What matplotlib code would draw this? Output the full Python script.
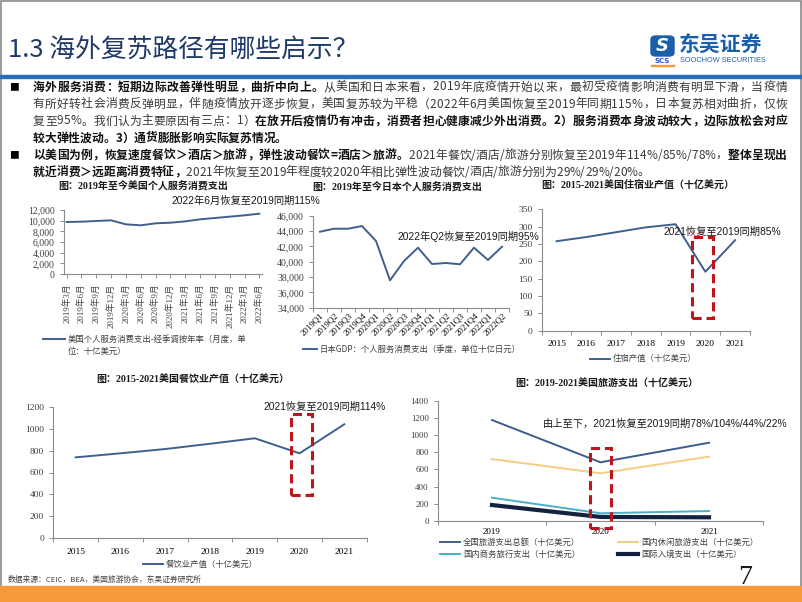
import matplotlib
matplotlib.use('Agg')
import matplotlib.pyplot as plt
from matplotlib.patches import Rectangle, FancyBboxPatch
from matplotlib.lines import Line2D
import numpy as np

W, H = 802, 602
CJK = ['Noto Sans CJK SC', 'DejaVu Sans']
SERIF = ['Liberation Serif', 'Noto Sans CJK SC']
SANS = ['Liberation Sans', 'Noto Sans CJK SC']
LINE = '#3F5F8F'
RED = '#C0141B'
GRAY = '#404040'

# ---- data ----
us_months = ['2019年3月', '2019年6月', '2019年9月', '2019年12月', '2020年3月', '2020年6月',
             '2020年9月', '2020年12月', '2021年3月', '2021年6月', '2021年9月', '2021年12月',
             '2022年3月', '2022年6月']
us_services = [9750, 9810, 9940, 10060, 9310, 9130, 9500, 9620, 9870, 10250, 10500, 10750,
               11000, 11310]

jp_quarters = ['2019Q1', '2019Q2', '2019Q3', '2019Q4', '2020Q1', '2020Q2', '2020Q3', '2020Q4',
               '2021Q1', '2021Q2', '2021Q3', '2021Q4', '2022Q1', '2022Q2']
jp_services = [43910, 44300, 44300, 44650, 42700, 37570, 40090, 41830, 39700, 39830, 39660,
               41830, 40220, 41960]

years = ['2015', '2016', '2017', '2018', '2019', '2020', '2021']
hotel = [258, 270, 284, 298, 307, 170, 261]
food = [738, 775, 814, 862, 912, 775, 1040]

travel_years = ['2019', '2020', '2021']
travel_total = [1175, 683, 911]
travel_leisure = [721, 555, 749]
travel_business = [271, 90, 116]
travel_intl = [186, 47, 43]

fig = plt.figure(figsize=(W / 100, H / 100), dpi=100)
renderer = fig.canvas.get_renderer()


def fx(x):
    return x / W


def fy(y):
    return 1 - y / H


def add_ax(l, t, r, b):
    ax = fig.add_axes([l / W, 1 - b / H, (r - l) / W, (b - t) / H])
    for s in ['top', 'right']:
        ax.spines[s].set_visible(False)
    for s in ['left', 'bottom']:
        ax.spines[s].set_color('#8C8C8C')
        ax.spines[s].set_linewidth(0.8)
    ax.tick_params(colors='#8C8C8C', labelcolor=GRAY, length=3, width=0.7)
    ax.set_facecolor('none')
    return ax


def serif_labels(ax, size):
    for t in ax.get_xticklabels(which='both') + ax.get_yticklabels():
        t.set_fontfamily(SERIF)
        t.set_fontsize(size)


def between_categories(ax, labels, size, rot=0):
    n = len(labels)
    ax.set_xlim(-0.5, n - 0.5)
    ax.set_xticks(np.arange(n + 1) - 0.5)
    ax.set_xticklabels([])
    ax.set_xticks(np.arange(n), minor=True)
    if rot:
        ax.set_xticklabels(labels, minor=True, rotation=rot, ha='right', rotation_mode='anchor')
    else:
        ax.set_xticklabels(labels, minor=True)
    ax.tick_params(axis='x', which='minor', length=0, pad=7, labelsize=size)


def legend_line(x1, x2, y, text, color=LINE, lw=1.4, size=6):
    fig.add_artist(Line2D([fx(x1), fx(x2)], [fy(y), fy(y)], color=color, lw=lw,
                          transform=fig.transFigure))
    fig.text(fx(x2 + 3), fy(y), text, fontsize=size, color=GRAY, va='center', ha='left',
             family=CJK)


def red_box(ax, x, y, w, h):
    ax.add_patch(Rectangle((x, y), w, h, fill=False, edgecolor=RED, lw=2.2,
                           linestyle=(0, (3, 1.6)), clip_on=False, zorder=5))


def chart_title(xc, y, s):
    fig.text(fx(xc), fy(y), s, fontsize=7.2, fontweight='bold', ha='center', va='center',
             family=SERIF, color='#1a1a1a')


def note(x, y, s, size=7.4):
    fig.text(fx(x), fy(y), s, fontsize=size, ha='left', va='center', family=SANS,
             color='#1a1a1a', zorder=6)


# ---- frame, header, footer ----
fig.add_artist(Rectangle((0.5 / W, 0), 1 - 1.5 / W, 1 - 0.5 / H, fill=False, edgecolor='#8A8A8A',
                         lw=1.2, transform=fig.transFigure))
fig.text(fx(8), fy(51), '1.3 海外复苏路径有哪些启示？', fontsize=18.5, color='#1F3A68',
         family=CJK, va='center', ha='left')
fig.add_artist(Rectangle((0, fy(78)), 1, 3 / H, color='#2A6EBB', transform=fig.transFigure))
fig.add_artist(FancyBboxPatch((fx(651), fy(56)), 23 / W, 20 / H,
                              boxstyle='round,pad=0.0,rounding_size=0.006', color='#1B5EAA',
                              transform=fig.transFigure))
fig.text(fx(662.5), fy(46), 'S', fontsize=13, fontweight='bold', fontstyle='italic', color='white',
         ha='center', va='center', family=['DejaVu Sans'])
fig.text(fx(662.5), fy(61), 'SCS', fontsize=5, fontweight='bold', color='#1B5EAA', ha='center',
         va='center', family=['DejaVu Sans'])
fig.add_artist(Rectangle((fx(651), fy(66)), 23 / W, 1.5 / H, color='#F7983A',
                         transform=fig.transFigure))
fig.text(fx(679), fy(45), '东吴证券', fontsize=15, fontweight='bold', color='#1B5EAA',
         ha='left', va='center', family=CJK)
fig.text(fx(680), fy(61), 'SOOCHOW SECURITIES', fontsize=5.3, color='#1B5EAA', ha='left',
         va='center', family=['Liberation Sans'])

fig.add_artist(Rectangle((0, 0), 1, 16 / H, color='#F7983A', transform=fig.transFigure))
fig.text(fx(8), fy(580), '数据来源：CEIC，BEA，美国旅游协会，东吴证券研究所', fontsize=5.6,
         color=GRAY, family=CJK, va='center')
fig.text(fx(745), fy(577), '7', fontsize=20, family=['Liberation Serif'], va='center',
         ha='center', color='#1a1a1a')

# ---- bullet text ----
width_cache = {}


def char_w(ch, bold, size):
    key = (ch, bold, size)
    if key not in width_cache:
        t = fig.text(0, 0, ch, fontsize=size, fontweight='bold' if bold else 'normal',
                     family=CJK)
        width_cache[key] = t.get_window_extent(renderer).width
        t.remove()
    return width_cache[key]


def rich_line(y, segs, justify=True, x0=33, x1=787, size=8.5):
    chars = [(c, b) for s, b in segs for c in s]
    widths = [char_w(c, b, size) for c, b in chars]
    extra = 0
    if justify:
        extra = (x1 - x0 - sum(widths)) / (len(chars) - 1)
    x = x0
    for (c, b), w in zip(chars, widths):
        fig.text(fx(x), fy(y), c, fontsize=size, fontweight='bold' if b else 'normal',
                 color='#111111' if b else '#3a3a3a', family=CJK, va='center', ha='left')
        x += w + extra


fig.text(fx(9), fy(87), '■', fontsize=7, family=CJK, va='center')
fig.text(fx(9), fy(155), '■', fontsize=7, family=CJK, va='center')
rich_line(87, [('海外服务消费：短期边际改善弹性明显，曲折中向上。', True),
               ('从美国和日本来看，2019年底疫情开始以来，最初受疫情影响消费有明显下滑，当疫情', False)])
rich_line(104, [('有所好转社会消费反弹明显，伴随疫情放开逐步恢复，美国复苏较为平稳（2022年6月美国恢复至2019年同期115%，日本复苏相对曲折，仅恢', False)])
rich_line(121, [('复至95%。我们认为主要原因有三点：1）', False),
                ('在放开后疫情仍有冲击，消费者担心健康减少外出消费。2）服务消费本身波动较大，边际放松会对应', True)])
rich_line(138, [('较大弹性波动。3）通货膨胀影响实际复苏情况。', True)], justify=False)
rich_line(155, [('以美国为例，恢复速度餐饮＞酒店＞旅游，弹性波动餐饮=酒店＞旅游。', True),
                ('2021年餐饮/酒店/旅游分别恢复至2019年114%/85%/78%，', False),
                ('整体呈现出', True)])
rich_line(172, [('就近消费＞远距离消费特征，', True),
                ('2021年恢复至2019年程度较2020年相比弹性波动餐饮/酒店/旅游分别为29%/29%/20%。', False)],
          justify=False)

# ---- chart 1: US services ----
chart_title(143, 186, '图：2019年至今美国个人服务消费支出')
ax1 = add_ax(64, 210, 262, 274)
x = np.arange(len(us_months))
ax1.plot(x, us_services, color=LINE, lw=1.4)
ax1.set_xlim(-0.18, len(us_months) - 0.82)
ax1.set_ylim(0, 12000)
ax1.set_yticks(np.arange(0, 12001, 2000))
ax1.set_yticklabels([f'{v:,}' for v in range(0, 12001, 2000)])
ax1.set_xticks(x)
ax1.set_xticklabels(us_months, rotation=90, ha='center', va='top')
ax1.tick_params(axis='x', pad=4)
serif_labels(ax1, 7)
for t in ax1.get_xticklabels():
    t.set_fontsize(6.3)
note(172, 201, '2022年6月恢复至2019同期115%')
legend_line(43, 65, 339, '美国个人服务消费支出-经季调按年率（月度，单')
fig.text(fx(68), fy(351), '位：十亿美元）', fontsize=6, color=GRAY, va='center', family=CJK)

# ---- chart 2: Japan services ----
chart_title(397, 187, '图：2019年至今日本个人服务消费支出')
ax2 = add_ax(313, 215.7, 509, 307.7)
ax2.plot(np.arange(len(jp_quarters)), jp_services, color=LINE, lw=1.4)
ax2.set_ylim(34000, 46000)
ax2.set_yticks(np.arange(34000, 46001, 2000))
ax2.set_yticklabels([f'{v:,}' for v in range(34000, 46001, 2000)])
between_categories(ax2, jp_quarters, 6.3, rot=45)
ax2.tick_params(axis='x', which='minor', pad=3)
serif_labels(ax2, 7)
for t in ax2.get_xticklabels(which='minor'):
    t.set_fontsize(6.3)
note(398, 236.7, '2022年Q2恢复至2019同期95%')
legend_line(303, 317, 349, '日本GDP：个人服务消费支出（季度，单位十亿日元）')

# ---- chart 3: accommodation ----
chart_title(638, 186, '图：2015-2021美国住宿业产值（十亿美元）')
ax3 = add_ax(541.7, 209.3, 750, 330.7)
ax3.plot(np.arange(len(years)), hotel, color=LINE, lw=1.4)
ax3.set_ylim(0, 350)
ax3.set_yticks(np.arange(0, 351, 50))
between_categories(ax3, years, 6.8)
serif_labels(ax3, 6.8)
red_box(ax3, 4.56, 36, 0.7, 233)
note(664, 232.3, '2021恢复至2019同期85%')
legend_line(590, 610, 358.7, '住宿产值（十亿美元）')

# ---- chart 4: food service ----
chart_title(193, 380, '图：2015-2021美国餐饮业产值（十亿美元）')
ax4 = add_ax(53.3, 406.7, 366.7, 538.3)
ax4.plot(np.arange(len(years)), food, color=LINE, lw=1.4)
ax4.set_ylim(0, 1200)
ax4.set_yticks(np.arange(0, 1201, 200))
between_categories(ax4, years, 6.8)
serif_labels(ax4, 6.8)
red_box(ax4, 4.81, 395, 0.46, 736)
note(263, 407.3, '2021恢复至2019同期114%')
legend_line(143, 163, 564.3, '餐饮业产值（十亿美元）')

# ---- chart 5: travel ----
chart_title(607, 384, '图：2019-2021美国旅游支出（十亿美元）')
ax5 = add_ax(437.7, 400.7, 763.3, 521)
xt = np.arange(len(travel_years))
ax5.plot(xt, travel_total, color='#3C5D8E', lw=1.4)
ax5.plot(xt, travel_leisure, color='#F3CE83', lw=1.4)
ax5.plot(xt, travel_business, color='#4BAFC8', lw=1.4)
ax5.plot(xt, travel_intl, color='#13233F', lw=3)
ax5.set_ylim(0, 1400)
ax5.set_yticks(np.arange(0, 1401, 200))
between_categories(ax5, travel_years, 6.5)
ax5.tick_params(axis='x', which='minor', pad=5)
serif_labels(ax5, 6.5)
red_box(ax5, 0.9, -85, 0.2, 931)
note(543, 424.3, '由上至下，2021恢复至2019同期78%/104%/44%/22%')
legend_line(440, 460, 542.3, '全国旅游支出总额（十亿美元）', color='#3C5D8E')
legend_line(618, 638, 542.3, '国内休闲旅游支出（十亿美元）', color='#F3CE83')
legend_line(440, 460, 554.3, '国内商务旅行支出（十亿美元）', color='#4BAFC8')
legend_line(618, 638, 554.3, '国际入境支出（十亿美元）', color='#13233F', lw=3)

fig.savefig('out.png', dpi=100)
